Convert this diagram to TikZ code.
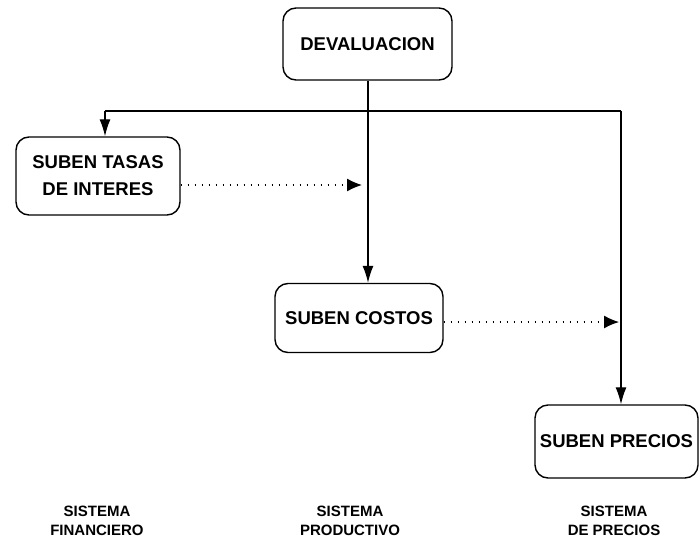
\documentclass[tikz,border=0pt]{standalone}
\usepackage{fontspec}
\setmainfont{Liberation Sans}
\usetikzlibrary{arrows.meta}
\begin{document}
\begin{tikzpicture}[x=1pt,y=-1pt,
  box/.style={draw,line width=1.4pt,rounded corners=13pt,inner sep=0pt,align=center,
    font=\bfseries\fontsize{18.5}{27}\selectfont},
  lbl/.style={align=center,inner sep=0pt,font=\bfseries\fontsize{15}{19}\selectfont},
  arr/.style={line width=1.3pt,-{Latex[length=17pt,width=11pt]}},
  dotarr/.style={line width=1.2pt,dash pattern=on 1pt off 6pt,-{Latex[length=15pt,width=13pt]}}]
\useasboundingbox (0,0) rectangle (700,556);
\node[box,minimum width=169pt,minimum height=72pt] (dev) at (367.5,44) {DEVALUACION};
\node[box,minimum width=164pt,minimum height=78pt] (tasas) at (98,176) {SUBEN TASAS\\DE INTERES};
\node[box,minimum width=168pt,minimum height=69pt] (costos) at (359,318) {SUBEN COSTOS};
\node[box,minimum width=163pt,minimum height=73pt] (precios) at (616.5,441.5) {SUBEN PRECIOS};
\coordinate (jl) at (105,111);
\coordinate (jr) at (621,111);
\coordinate (jc) at (368,111);
\coordinate (d1) at (362,185);
\coordinate (d2) at (619,322);
\draw[line width=1.3pt] (jl) -- (jr);
\draw[arr] (jc |- dev.south) -- (jc |- costos.north);
\draw[arr] (jl) -- (jl |- tasas.north);
\draw[arr] (jr) -- (jr |- precios.north);
\draw[dotarr] (tasas.east |- d1) -- (d1);
\draw[dotarr] (costos.east |- d2) -- (d2);
\node[lbl] (l1) at (97,521) {SISTEMA\\FINANCIERO};
\node[lbl] (l2) at (350,521) {SISTEMA\\PRODUCTIVO};
\node[lbl] (l3) at (614,521) {SISTEMA\\DE PRECIOS};
\end{tikzpicture}
\end{document}
